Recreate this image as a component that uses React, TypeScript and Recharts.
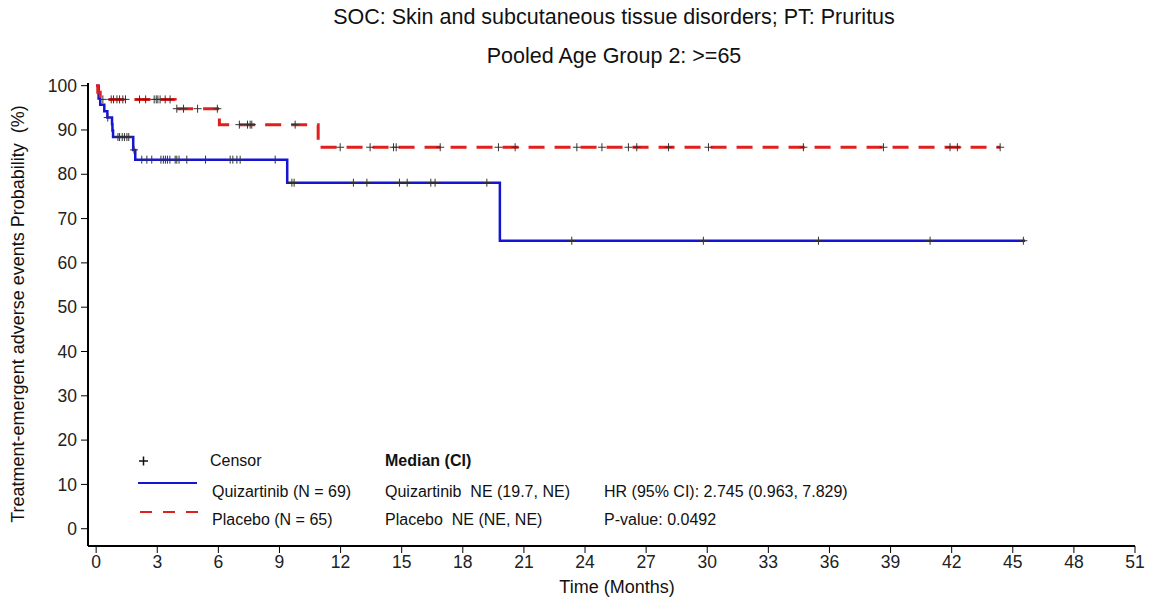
import React from "react";
import { ComposedChart, Line, Scatter, XAxis, YAxis } from "recharts";

// Kaplan-Meier steps (time in months, probability in %)
const quizTimes = [0, 0.12, 0.2, 0.4, 0.55, 0.78, 0.8, 0.83, 1.82, 1.92, 9.38, 19.82, 45.6];
const quizSurv = [100, 97.1, 95.7, 94.2, 92.8, 91.3, 89.9, 88.4, 85.5, 83.3, 78.1, 65.0, 65.0];

const placeboTimes = [0, 0.08, 0.2, 3.88, 6.05, 10.9, 44.38];
const placeboSurv = [100, 98.5, 96.9, 94.8, 91.2, 86.1, 86.1];

// censor times
const quizCensor = [
  0.57, 1.07, 1.15, 1.28, 1.39, 1.51, 1.6, 1.86, 2.24, 2.49, 2.73, 3.18, 3.3, 3.4, 3.5, 3.62, 3.88,
  3.96, 4.07, 4.45, 5.37, 6.58, 6.71, 6.91, 7.07, 8.79, 9.61, 9.72, 12.63, 13.29, 14.89, 15.27,
  16.43, 16.64, 19.18, 23.35, 29.81, 35.46, 40.94, 45.52,
];
const placeboCensor = [
  0.33, 0.74, 0.85, 1.02, 1.15, 1.31, 1.44, 2.13, 2.43, 2.85, 2.95, 3.03, 3.14, 3.39, 3.63, 3.96,
  4.29, 4.98, 5.95, 7.03, 7.43, 7.56, 7.64, 9.77, 11.98, 13.45, 14.6, 14.73, 16.89, 19.75, 20.57,
  23.6, 24.83, 26.13, 26.54, 28.1, 30.06, 34.72, 38.65, 41.92, 42.28, 44.38,
];

const xTicks = [0, 3, 6, 9, 12, 15, 18, 21, 24, 27, 30, 33, 36, 39, 42, 45, 48, 51];
const yTicks = [0, 10, 20, 30, 40, 50, 60, 70, 80, 90, 100];

const BLUE = "#1414d2";
const RED = "#e0201f";
const FONT = "'Liberation Sans', Arial, sans-serif";

function survAt(times: number[], surv: number[], t: number) {
  let v = surv[0];
  for (let i = 0; i < times.length; i++) if (times[i] <= t) v = surv[i];
  return v;
}

const quizSteps = quizTimes.map((t, i) => ({ t, s: quizSurv[i] }));
const placeboSteps = placeboTimes.map((t, i) => ({ t, s: placeboSurv[i] }));
const quizCensorPts = quizCensor.map((t) => ({ t, s: survAt(quizTimes, quizSurv, t) }));
const placeboCensorPts = placeboCensor.map((t) => ({ t, s: survAt(placeboTimes, placeboSurv, t) }));

const Cross = (props: any) => {
  const { cx, cy } = props;
  if (cx == null || cy == null) return <g />;
  return (
    <path d={`M${cx - 4},${cy}H${cx + 4}M${cx},${cy - 4}V${cy + 4}`} stroke="#333" strokeWidth={1} fill="none" />
  );
};

const tickStyle = { fill: "#222", fontSize: 17.5, fontFamily: FONT };

function Txt({ x, y, size = 16, bold = false, children }: any) {
  return (
    <div
      style={{
        position: "absolute",
        left: x,
        top: y - size / 2,
        fontSize: size,
        lineHeight: 1,
        fontWeight: bold ? "bold" : "normal",
        whiteSpace: "pre",
        color: "#111",
      }}
    >
      {children}
    </div>
  );
}

export default function App() {
  return (
    <div style={{ position: "absolute", left: 0, top: 0, width: 1156, height: 600, background: "#fff", fontFamily: FONT }}>
      <ComposedChart width={1156} height={600} margin={{ top: 83, right: 21, left: 0, bottom: 0 }}>
        <XAxis
          dataKey="t"
          type="number"
          domain={[-0.4, 51]}
          ticks={xTicks}
          allowDataOverflow
          height={54}
          axisLine={{ stroke: "#000", strokeWidth: 2 }}
          tickLine={{ stroke: "#000" }}
          tickSize={7}
          tickMargin={3}
          tick={tickStyle}
        />
        <YAxis
          dataKey="s"
          type="number"
          domain={[-3.9, 100.6]}
          ticks={yTicks}
          allowDataOverflow
          width={88}
          axisLine={{ stroke: "#000", strokeWidth: 2 }}
          tickLine={{ stroke: "#000" }}
          tickSize={7}
          tickMargin={4}
          tick={tickStyle}
        />
        <Line
          data={quizSteps}
          dataKey="s"
          type="stepAfter"
          stroke={BLUE}
          strokeWidth={2.5}
          dot={false}
          isAnimationActive={false}
        />
        <Line
          data={placeboSteps}
          dataKey="s"
          type="stepAfter"
          stroke={RED}
          strokeWidth={3}
          strokeDasharray="16 10"
          dot={false}
          isAnimationActive={false}
        />
        <Scatter data={quizCensorPts} dataKey="s" shape={Cross} isAnimationActive={false} />
        <Scatter data={placeboCensorPts} dataKey="s" shape={Cross} isAnimationActive={false} />
      </ComposedChart>

      <div style={{ position: "absolute", left: 614, top: 7, transform: "translateX(-50%)", fontSize: 21.5, lineHeight: 1, whiteSpace: "nowrap", color: "#111" }}>
        SOC: Skin and subcutaneous tissue disorders; PT: Pruritus
      </div>
      <div style={{ position: "absolute", left: 614, top: 46, transform: "translateX(-50%)", fontSize: 21.5, lineHeight: 1, whiteSpace: "nowrap", color: "#111" }}>
        Pooled Age Group 2: &gt;=65
      </div>
      <div style={{ position: "absolute", left: 617, top: 578, transform: "translateX(-50%)", fontSize: 18, lineHeight: 1, whiteSpace: "nowrap", color: "#111" }}>
        Time (Months)
      </div>
      <div
        style={{
          position: "absolute",
          left: 18,
          top: 314,
          transform: "translate(-50%, -50%) rotate(-90deg)",
          fontSize: 18,
          lineHeight: 1,
          whiteSpace: "pre",
          color: "#111",
        }}
      >
        {"Treatment-emergent adverse events Probability  (%)"}
      </div>

      <svg style={{ position: "absolute", left: 0, top: 0 }} width={1156} height={600}>
        <path d="M139,461H148M143.5,456.5V465.5" stroke="#111" strokeWidth={1.5} />
        <line x1={138} y1={483} x2={197} y2={483} stroke={BLUE} strokeWidth={2} />
        <line x1={140} y1={512} x2={198} y2={512} stroke={RED} strokeWidth={2} strokeDasharray="12 11" />
      </svg>
      <Txt x={210} y={461}>Censor</Txt>
      <Txt x={212} y={492}>Quizartinib (N = 69)</Txt>
      <Txt x={212} y={520}>Placebo (N = 65)</Txt>
      <Txt x={385} y={461} bold>Median (CI)</Txt>
      <Txt x={385} y={492}>Quizartinib  NE (19.7, NE)</Txt>
      <Txt x={385} y={520}>Placebo  NE (NE, NE)</Txt>
      <Txt x={604} y={492}>HR (95% CI): 2.745 (0.963, 7.829)</Txt>
      <Txt x={604} y={520}>P-value: 0.0492</Txt>
    </div>
  );
}
